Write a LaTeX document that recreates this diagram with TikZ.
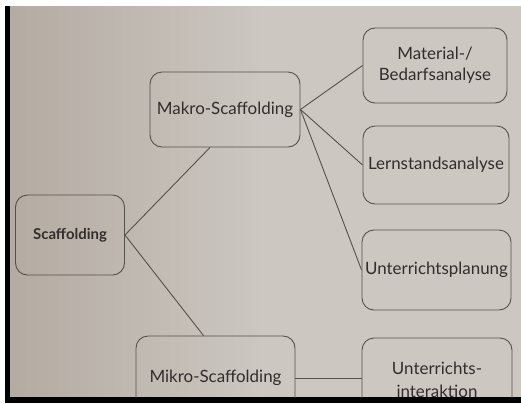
\documentclass[tikz,border=0pt]{standalone}
\usepackage{fontspec}
\setmainfont{Lato}
\usetikzlibrary{calc}
\definecolor{paper}{RGB}{204,199,193}
\definecolor{paperdark}{RGB}{180,171,162}
\definecolor{ink}{RGB}{50,45,45}
\definecolor{rule}{RGB}{85,80,76}
\tikzset{
  box/.style={draw=rule, line width=0.9bp, rounded corners=12bp, text=ink, align=center, inner sep=0pt,
    font=\fontsize{17}{21}\selectfont},
  conn/.style={draw=rule, line width=0.9bp},
}
\begin{document}
\begin{tikzpicture}[x=1bp,y=-1bp]
\useasboundingbox (0,0) rectangle (521,403);
\fill[white] (0,0) rectangle (521,403);
\shade[left color=paperdark, right color=paper, middle color=paper] (10,6) rectangle (521,397);
\fill[black] (5,6) rectangle (10,403);
\fill[black] (5,397) rectangle (521,403);
\begin{scope}
\clip (10,6) rectangle (521,397);
\node[box, minimum width=109bp, minimum height=80bp, font=\fontsize{15}{18}\selectfont\bfseries] (scaf) at (70,235) {Scaffolding};
\node[box, minimum width=150bp, minimum height=75bp] (makro) at (225,109.5) {Makro-Scaffolding};
\node[box, minimum width=144bp, minimum height=75bp] (mat) at (435,65.5) {Material-/\\Bedarfsanalyse};
\node[box, minimum width=146bp, minimum height=78bp] (lern) at (436,165) {Lernstandsanalyse};
\node[box, minimum width=149bp, minimum height=80bp] (plan) at (436.5,270) {Unterrichtsplanung};
\node[box, minimum width=159bp, minimum height=84bp] (mikro) at (215.5,378) {Mikro-Scaffolding};
\node[box, minimum width=150bp, minimum height=84bp] (inter) at (437,380) {Unterrichts-\\[2bp]interaktion};
\draw[conn] (scaf.east) -- ($(makro.south)+(-15,0)$);
\draw[conn] (scaf.east) -- ($(mikro.north)+(-12,0)$);
\draw[conn] (makro.east) -- (mat.west);
\draw[conn] (makro.east) -- (lern.west);
\draw[conn] (makro.east) -- (plan.west);
\draw[conn] (mikro.east) -- (mikro.east -| inter.west);
\end{scope}
\end{tikzpicture}
\end{document}
